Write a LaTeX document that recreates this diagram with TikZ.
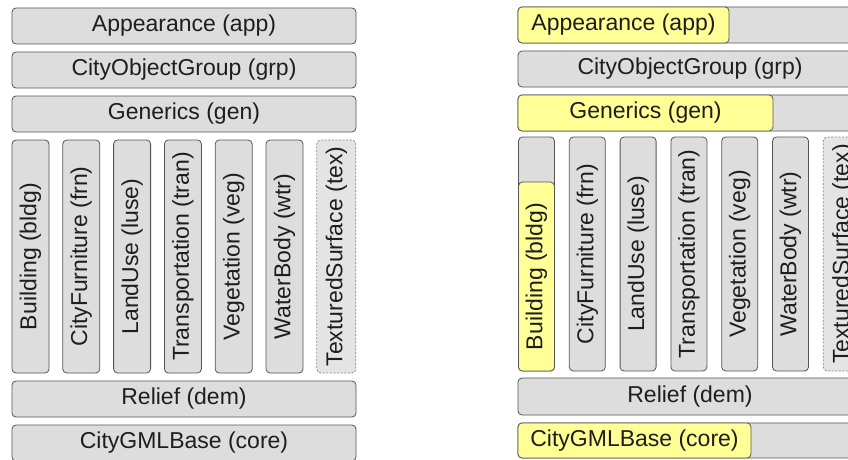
\documentclass[tikz,border=0pt]{standalone}
\usepackage{fontspec}
\setmainfont{Liberation Sans}
\usepackage{graphicx}

\definecolor{boxgrey}{RGB}{221,221,221}
\definecolor{extgrey}{RGB}{228,228,228}
\definecolor{edgegrey}{RGB}{85,85,85}
\definecolor{dashgrey}{RGB}{135,135,135}
\definecolor{hiyellow}{RGB}{255,255,150}
\definecolor{ink}{RGB}{30,30,30}

% upright text set along a column
\newcommand\vlabel[1]{\rotatebox{90}{#1}}

\begin{document}
\begin{tikzpicture}[x=1pt,y=-1pt,
  layer/.style={draw=edgegrey, fill=boxgrey, rounded corners=4pt, line width=0.8pt,
                inner sep=0pt, outer sep=0pt, anchor=north west, text=ink,
                font=\fontsize{23}{27}\selectfont},
  wide/.style={layer, minimum width=344pt, minimum height=36pt},
  column/.style={layer, minimum width=37pt, minimum height=233pt},
  hi/.style={fill=hiyellow},
  ext/.style={draw=dashgrey, fill=extgrey, dash pattern=on 2pt off 1.6pt},
]
\useasboundingbox (0,0) rectangle (848,460);
\fill[white] (0,0) rectangle (848,460);

\begin{scope}
\clip (0,0) rectangle (848,460);

% ---------- module stack ----------
\node[wide] (l-app)  at (12,8)   {Appearance (app)};
\node[wide] (l-grp)  at (12,52)  {CityObjectGroup (grp)};
\node[wide] (l-gen)  at (12,96)  {Generics (gen)};

\node[column] (l-bldg) at (12,140)    {\vlabel{Building (bldg)}};
\node[column] (l-frn)  at (62.8,140)  {\vlabel{CityFurniture (frn)}};
\node[column] (l-luse) at (113.6,140) {\vlabel{LandUse (luse)}};
\node[column] (l-tran) at (164.4,140) {\vlabel{Transportation (tran)}};
\node[column] (l-veg)  at (215.2,140) {\vlabel{Vegetation (veg)}};
\node[column] (l-wtr)  at (266,140)   {\vlabel{WaterBody (wtr)}};
\node[column, ext, minimum width=39pt] (l-tex) at (316.8,140) {\vlabel{TexturedSurface (tex)}};

\node[wide] (l-dem)  at (12,381) {Relief (dem)};
\node[wide] (l-core) at (12,425) {CityGMLBase (core)};

% ---------- module stack with highlighted parts ----------
\node[wide] (r-app)  at (518,7) {};
\node[layer, hi, minimum width=211pt, minimum height=36pt] (r-app-hi) at (518,7) {Appearance (app)};
\node[wide] (r-grp)  at (518,51) {CityObjectGroup (grp)};
\node[wide] (r-gen)  at (518,95) {};
\node[layer, hi, minimum width=255pt, minimum height=36pt] (r-gen-hi) at (518,95) {Generics (gen)};

\node[column, minimum width=36pt, minimum height=234pt] (r-bldg) at (518.5,137) {};
\node[layer, hi, minimum width=36pt, minimum height=189pt] (r-bldg-hi) at (518.5,182) {\vlabel{Building (bldg)}};
\node[column, minimum width=36pt, minimum height=234pt] (r-frn)  at (569.3,137) {\vlabel{CityFurniture (frn)}};
\node[column, minimum width=36pt, minimum height=234pt] (r-luse) at (620.1,137) {\vlabel{LandUse (luse)}};
\node[column, minimum width=36pt, minimum height=234pt] (r-tran) at (670.9,137) {\vlabel{Transportation (tran)}};
\node[column, minimum width=36pt, minimum height=234pt] (r-veg)  at (721.7,137) {\vlabel{Vegetation (veg)}};
\node[column, minimum width=36pt, minimum height=234pt] (r-wtr)  at (772.5,137) {\vlabel{WaterBody (wtr)}};
\node[column, ext, minimum width=39pt, minimum height=234pt] (r-tex) at (823.3,137) {\vlabel{TexturedSurface (tex)}};

\node[wide, minimum height=37pt] (r-dem) at (518,378) {Relief (dem)};
\node[wide, minimum height=35pt] (r-core) at (518,423) {};
\node[layer, hi, minimum width=233pt, minimum height=35pt] (r-core-hi) at (518,423) {CityGMLBase (core)};
\end{scope}
\end{tikzpicture}
\end{document}
